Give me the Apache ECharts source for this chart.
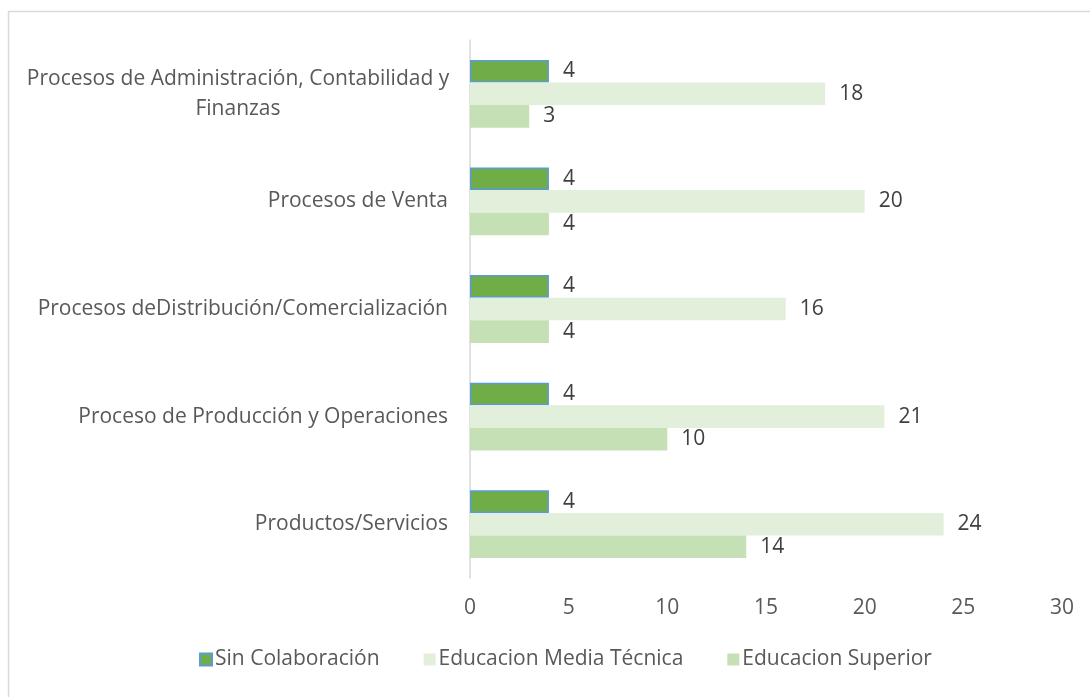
<!DOCTYPE html>
<html>
<head>
<meta charset="utf-8">
<script src="https://cdn.jsdelivr.net/npm/echarts@6/dist/echarts.min.js"></script>
<style>
  html, body { margin: 0; padding: 0; background: #fff; }
  #main { width: 1090px; height: 697px; }
</style>
</head>
<body>
<div id="main"></div>
<script>
// categorias de abajo hacia arriba
var categorias = [
  'Productos/Servicios',
  'Proceso de Producción y Operaciones',
  'Procesos deDistribución/Comercialización',
  'Procesos de Venta',
  'Procesos de Administración, Contabilidad y Finanzas'
];
var sinColaboracion = [4, 4, 4, 4, 4];
var mediaTecnica = [24, 21, 16, 20, 18];
var superior = [14, 10, 4, 4, 3];
var ticksX = [0, 5, 10, 15, 20, 25, 30];

var fuente = '"Open Sans", "Noto Sans", sans-serif';
var tam = 21;
var myChart = echarts.init(document.getElementById('main'));

function etiqueta() {
  return {
    show: true,
    position: 'right',
    distance: 14,
    color: '#404040',
    fontSize: tam,
    fontFamily: fuente
  };
}

var option = {
  backgroundColor: '#fff',
  animation: false,
  graphic: [{
    type: 'rect',
    shape: { x: 8.5, y: 11.5, width: 1200, height: 800 },
    style: { fill: 'none', stroke: '#d9d9d9', lineWidth: 1.5 },
    silent: true
  }],
  grid: { left: 470, right: 28, top: 40, bottom: 119 },
  legend: {
    bottom: 22,
    left: 194,
    itemWidth: 12,
    itemHeight: 12,
    itemGap: 44,
    icon: 'rect',
    data: ['Sin Colaboración', 'Educacion Media Técnica', 'Educacion Superior'],
    textStyle: { color: '#595959', fontSize: tam, fontFamily: fuente, padding: [0, 0, 0, -2] }
  },
  xAxis: {
    type: 'value',
    min: 0,
    max: ticksX[ticksX.length - 1],
    interval: 5,
    axisLine: { show: false },
    axisTick: { show: false },
    splitLine: { show: false },
    axisLabel: {
      margin: 20,
      color: '#595959',
      fontSize: tam,
      fontFamily: fuente
    }
  },
  yAxis: {
    type: 'category',
    data: categorias,
    axisLine: { show: true, lineStyle: { color: '#d9d9d9', width: 1.5 } },
    axisTick: { show: false },
    axisLabel: {
      margin: 22,
      color: '#595959',
      fontSize: tam,
      fontFamily: fuente,
      formatter: function (v) {
        if (v.indexOf('Contabilidad') >= 0) {
          return '{c|Procesos de Administración, Contabilidad y}\n{c|Finanzas}';
        }
        return v;
      },
      rich: {
        c: { width: 420, align: 'center', color: '#595959', fontSize: tam, fontFamily: fuente, lineHeight: 30 }
      }
    }
  },
  series: [
    {
      name: 'Sin Colaboración',
      type: 'bar',
      data: sinColaboracion,
      barGap: '0%',
      barCategoryGap: '37%',
      itemStyle: { color: '#70AD47', borderColor: '#5B9BD5', borderWidth: 1.5 },
      label: etiqueta()
    },
    {
      name: 'Educacion Media Técnica',
      type: 'bar',
      data: mediaTecnica,
      itemStyle: { color: '#E2EFDA' },
      label: etiqueta()
    },
    {
      name: 'Educacion Superior',
      type: 'bar',
      data: superior,
      itemStyle: { color: '#C5E0B4' },
      label: etiqueta()
    }
  ]
};

myChart.setOption(option);
</script>
</body>
</html>
